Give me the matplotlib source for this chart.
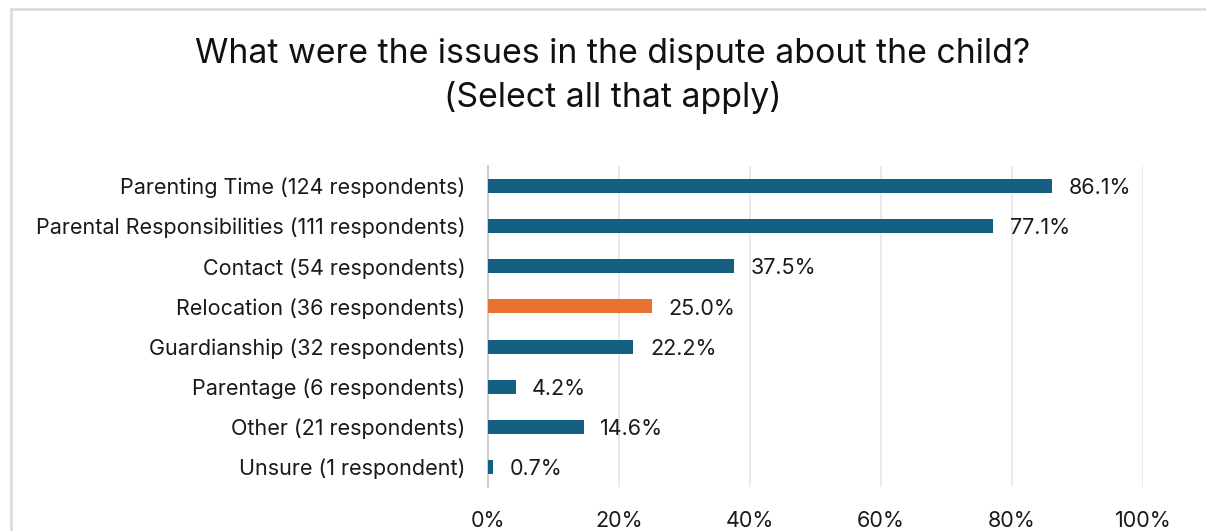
import matplotlib.pyplot as plt
from matplotlib.lines import Line2D

categories = [
    "Parenting Time (124 respondents)",
    "Parental Responsibilities (111 respondents)",
    "Contact (54 respondents)",
    "Relocation (36 respondents)",
    "Guardianship (32 respondents)",
    "Parentage (6 respondents)",
    "Other (21 respondents)",
    "Unsure (1 respondent)",
]
values = [86.1, 77.1, 37.5, 25.0, 22.2, 4.2, 14.6, 0.7]
highlight = "Relocation (36 respondents)"
xticks = [0, 20, 40, 60, 80, 100]

plt.rcParams['font.family'] = ['Inter', 'DejaVu Sans']

blue = '#156082'
orange = '#E97132'

W, H = 1206, 531
fig = plt.figure(figsize=(W / 100, H / 100), dpi=100)
ax = fig.add_axes([488 / W, 1 - 487 / H, (1143 - 488) / W, (487 - 166) / H])

y = list(range(len(categories)))
colors = [orange if c == highlight else blue for c in categories]
ax.barh(y, values, height=0.35, color=colors, zorder=3)
ax.set_ylim(len(categories) - 0.5, -0.5)
ax.set_xlim(0, 100)

for yi, v in zip(y, values):
    ax.annotate(f"{v:.1f}%", (v, yi), xytext=(12, -1.5), textcoords='offset points',
                va='center', ha='left', fontsize=15.5, color='#1a1a1a')

ax.set_yticks(y)
ax.set_yticklabels(categories, fontsize=15.5, color='#1a1a1a')
ax.set_xticks(xticks)
ax.set_xticklabels([f"{t}%" for t in xticks], fontsize=15.5, color='#1a1a1a')
ax.tick_params(axis='both', length=0)
ax.tick_params(axis='y', pad=16)
ax.tick_params(axis='x', pad=17)
ax.grid(axis='x', color='#e6e6e6', linewidth=1.2, zorder=0)
for s in ['top', 'right', 'bottom']:
    ax.spines[s].set_visible(False)
ax.spines['left'].set_color('#cfcfcf')
ax.spines['left'].set_linewidth(1.5)

fig.text(613 / W, 1 - 76 / H, "What were the issues in the dispute about the child?\n(Select all that apply)",
         ha='center', va='center', fontsize=24.4, color='#111111', linespacing=1.4)

# chart frame (partially visible)
bx, by = 11 / W, 1 - 9 / H
fig.add_artist(Line2D([bx, bx], [0, by], transform=fig.transFigure, color='#d9d9d9', linewidth=1.8))
fig.add_artist(Line2D([bx, 1], [by, by], transform=fig.transFigure, color='#d9d9d9', linewidth=1.8))

fig.savefig('out.png', dpi=100, facecolor='white')
